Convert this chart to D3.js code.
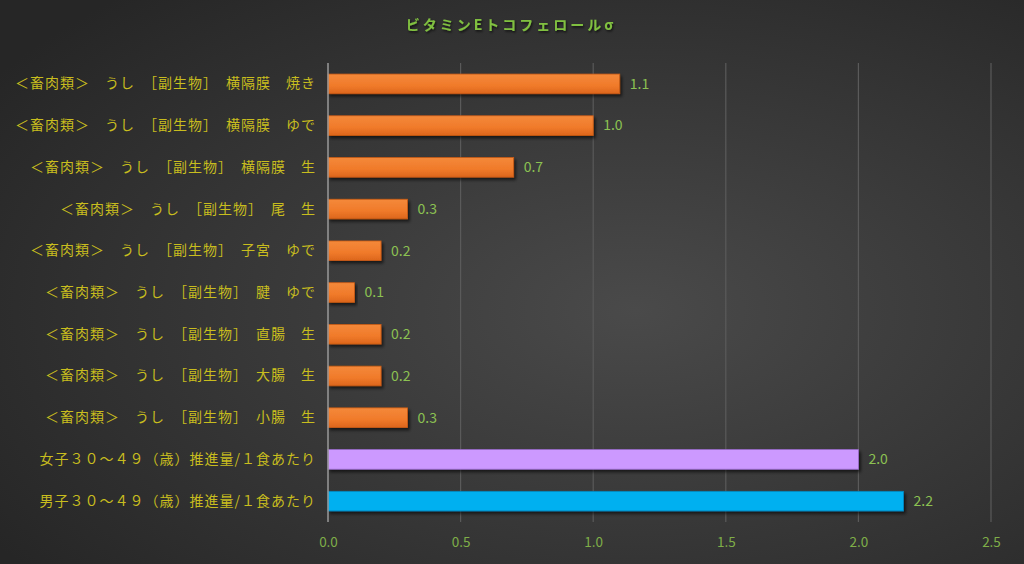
<!DOCTYPE html>
<html><head><meta charset="utf-8">
<script src="https://cdn.jsdelivr.net/npm/d3@7"></script>
<style>
html,body{margin:0;padding:0;background:#2b2b2b;}
svg{display:block;font-family:"Noto Sans CJK JP","Noto Sans",sans-serif;}
</style></head><body>
<svg id="c" width="1024" height="564"></svg>
<script>
const title = "ビタミンEトコフェロールσ";
const categories = [
  "＜畜肉類＞　うし　［副生物］　横隔膜　焼き",
  "＜畜肉類＞　うし　［副生物］　横隔膜　ゆで",
  "＜畜肉類＞　うし　［副生物］　横隔膜　生",
  "＜畜肉類＞　うし　［副生物］　尾　生",
  "＜畜肉類＞　うし　［副生物］　子宮　ゆで",
  "＜畜肉類＞　うし　［副生物］　腱　ゆで",
  "＜畜肉類＞　うし　［副生物］　直腸　生",
  "＜畜肉類＞　うし　［副生物］　大腸　生",
  "＜畜肉類＞　うし　［副生物］　小腸　生",
  "女子３０～４９（歳）推進量/１食あたり",
  "男子３０～４９（歳）推進量/１食あたり"
];
const values = [1.1, 1.0, 0.7, 0.3, 0.2, 0.1, 0.2, 0.2, 0.3, 2.0, 2.17];
const kinds = ["food","food","food","food","food","food","food","food","food","female","male"];
const xTicks = [0, 0.5, 1.0, 1.5, 2.0, 2.5];

const W = 1024, H = 564;
const m = {left: 328, right: 33, top: 63, bottom: 42};
const svg = d3.select("#c");
const defs = svg.append("defs");

const bg = defs.append("radialGradient").attr("id","bg")
  .attr("cx","62%").attr("cy","55%").attr("r","75%");
bg.append("stop").attr("offset","0%").attr("stop-color","#4a4a4a");
bg.append("stop").attr("offset","100%").attr("stop-color","#262626");

const og = defs.append("linearGradient").attr("id","og").attr("x1",0).attr("y1",0).attr("x2",0).attr("y2",1);
og.append("stop").attr("offset","0%").attr("stop-color","#f4893a");
og.append("stop").attr("offset","60%").attr("stop-color","#f07a2a");
og.append("stop").attr("offset","100%").attr("stop-color","#dc661c");

const sh = defs.append("filter").attr("id","sh").attr("x","-5%").attr("y","-30%").attr("width","115%").attr("height","180%");
sh.append("feDropShadow").attr("dx",2).attr("dy",2.5).attr("stdDeviation",1.5)
  .attr("flood-color","#000").attr("flood-opacity",0.6);
const tsh = defs.append("filter").attr("id","tsh").attr("x","-5%").attr("y","-30%").attr("width","115%").attr("height","180%");
tsh.append("feDropShadow").attr("dx",1).attr("dy",1.5).attr("stdDeviation",1)
  .attr("flood-color","#000").attr("flood-opacity",0.7);

svg.append("rect").attr("width",W).attr("height",H).attr("fill","url(#bg)");

const x = d3.scaleLinear().domain([0, 2.5]).range([m.left, W - m.right]);
const y = d3.scaleBand().domain(categories).range([m.top, H - m.bottom]).paddingInner(0.53).paddingOuter(0.265);

// gridlines
svg.append("g").selectAll("line").data(xTicks.slice(1)).join("line")
  .attr("x1", d => x(d)).attr("x2", d => x(d))
  .attr("y1", m.top).attr("y2", H - m.bottom)
  .attr("stroke", "#5a5a5a").attr("stroke-width", 1.2);

// x axis tick labels
const xAxis = d3.axisBottom(x).tickValues(xTicks).tickFormat(d3.format(".1f")).tickSize(0).tickPadding(0);
const xg = svg.append("g").attr("transform", `translate(0,${H - m.bottom + 15})`).call(xAxis);
xg.select(".domain").remove();
xg.selectAll("text").attr("fill","#7fae48").attr("font-size","13.5px")
  .attr("font-family","'Noto Sans CJK JP',sans-serif");

const fillFor = k => k === "food" ? "url(#og)" : (k === "female" ? "#cc99ff" : "#00b0f0");
const strokeFor = k => k === "food" ? "#c85a14" : (k === "female" ? "#9a6ccc" : "#0088c0");

// bars
svg.append("g").selectAll("rect").data(values).join("rect")
  .attr("x", x(0))
  .attr("y", (d,i) => y(categories[i]))
  .attr("width", d => x(d) - x(0))
  .attr("height", y.bandwidth())
  .attr("fill", (d,i) => fillFor(kinds[i]))
  .attr("stroke", (d,i) => strokeFor(kinds[i]))
  .attr("stroke-width", 0.8)
  .attr("filter", "url(#sh)");

// y axis
const yAxis = d3.axisLeft(y).tickSize(0).tickPadding(12);
const yg = svg.append("g").attr("transform", `translate(${m.left},0)`).call(yAxis);
yg.select(".domain").remove();
yg.selectAll("text").attr("fill","#c8bd1e").attr("font-size","14px")
  .attr("letter-spacing","1px")
  .attr("font-family","'Noto Sans CJK JP',sans-serif");
svg.append("line").attr("x1", x(0)).attr("x2", x(0)).attr("y1", m.top).attr("y2", H - m.bottom)
  .attr("stroke", "#9a9a9a").attr("stroke-width", 1.5);

// value labels
svg.append("g").selectAll("text").data(values).join("text")
  .attr("x", d => x(d) + 10)
  .attr("y", (d,i) => y(categories[i]) + y.bandwidth()/2)
  .attr("dy", "0.35em")
  .attr("fill", "#8cc152").attr("font-size", "14px")
  .text(d => d3.format(".1f")(d));

// title
svg.append("text").attr("x", 511).attr("y", 30).attr("text-anchor","middle")
  .attr("fill","#80c040").attr("font-size","14px").attr("font-weight","bold")
  .attr("letter-spacing","3px").attr("filter","url(#tsh)")
  .text(title);
</script>
</body></html>
